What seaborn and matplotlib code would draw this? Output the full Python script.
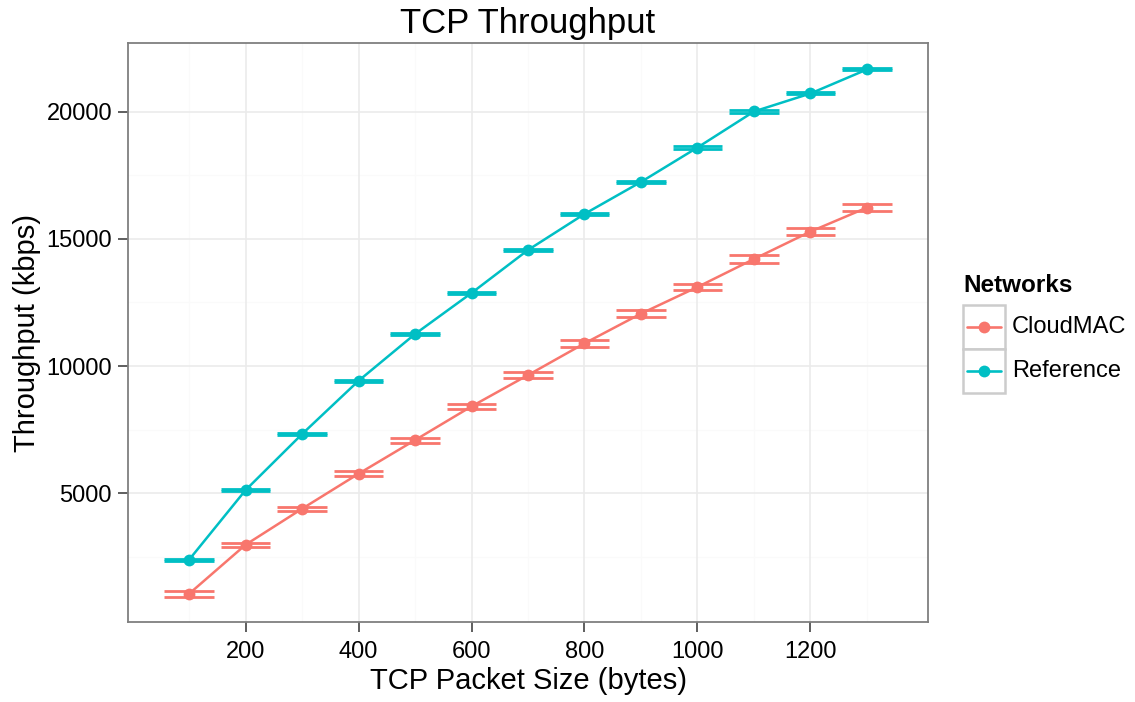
import numpy as np
import pandas as pd
import matplotlib
matplotlib.use("Agg")
import matplotlib.pyplot as plt
from matplotlib.lines import Line2D
from matplotlib.patches import Rectangle
import seaborn as sns

# values
packet_size = [100, 200, 300, 400, 500, 600, 700, 800, 900, 1000, 1100, 1200, 1300]
cloudmac = [1046, 2974, 4390, 5767, 7089, 8415, 9646, 10893, 12061, 13108, 14209, 15287, 16231]
cloudmac_err = [125, 90, 90, 100, 100, 100, 110, 140, 145, 130, 138, 135, 125]
reference = [2384, 5122, 7325, 9420, 11259, 12872, 14563, 15980, 17238, 18592, 20008, 20716, 21660]
reference_err = [30, 30, 35, 35, 35, 35, 35, 35, 40, 40, 40, 40, 40]
networks = ["CloudMAC", "Reference"]
colors = {"CloudMAC": "#F8766D", "Reference": "#00BFC4"}
x_ticks = [200, 400, 600, 800, 1000, 1200]
y_ticks = [5000, 10000, 15000, 20000]

df = pd.concat([
    pd.DataFrame({"size": packet_size, "tput": cloudmac, "err": cloudmac_err, "net": "CloudMAC"}),
    pd.DataFrame({"size": packet_size, "tput": reference, "err": reference_err, "net": "Reference"}),
])

sns.set_theme(style="white")
plt.rcParams["font.family"] = ["Liberation Sans", "DejaVu Sans"]
plt.rcParams["text.color"] = "black"
plt.rcParams["axes.labelcolor"] = "black"

fig = plt.figure(figsize=(11.35, 7.02), dpi=100)
ax = fig.add_axes([128 / 1135, 1 - 622 / 702, 800 / 1135, 579 / 702])

# grid like ggplot theme_bw
for v in [2500, 7500, 12500, 17500]:
    ax.axhline(v, color="#FAFAFA", lw=1.0, zorder=0)
for v in [100, 300, 500, 700, 900, 1100, 1300]:
    ax.axvline(v, color="#FAFAFA", lw=1.0, zorder=0)
for v in y_ticks:
    ax.axhline(v, color="#EBEBEB", lw=1.2, zorder=0)
for v in x_ticks:
    ax.axvline(v, color="#EBEBEB", lw=1.2, zorder=0)

# error bars with wide caps
half = 44
for net in networks:
    d = df[df["net"] == net]
    c = colors[net]
    ax.vlines(d["size"], d["tput"] - d["err"], d["tput"] + d["err"], color=c, lw=1.8, zorder=2)
    ax.hlines(d["tput"] - d["err"], d["size"] - half, d["size"] + half, color=c, lw=2.0, zorder=2)
    ax.hlines(d["tput"] + d["err"], d["size"] - half, d["size"] + half, color=c, lw=2.0, zorder=2)

sns.lineplot(data=df, x="size", y="tput", hue="net", palette=colors, marker="o",
             markersize=8.5, markeredgewidth=0, linewidth=1.8, legend=False, ax=ax, zorder=3)

ax.set_xlim(-8, 1408)
ax.set_ylim(-60, 22700)
ax.set_xticks(x_ticks)
ax.set_yticks(y_ticks)
ax.tick_params(axis="both", labelsize=17, colors="#333333", labelcolor="black",
               length=7.5, width=1.1, direction="out", bottom=True, left=True, pad=4)
ax.tick_params(axis="x", pad=6)
for s in ax.spines.values():
    s.set_color("#7F7F7F")
    s.set_linewidth(1.3)

ax.set_xlabel("TCP Packet Size (bytes)", fontsize=21, labelpad=3)
ax.set_ylabel("Throughput (kbps)", fontsize=21, labelpad=4)
ax.set_title("TCP Throughput", fontsize=25, pad=7)

# legend drawn ggplot style
fig.text(963 / 1135, 1 - 285 / 702, "Networks", fontsize=17.5, fontweight="bold",
         ha="left", va="center")
for i, net in enumerate(networks):
    top = 305 + i * 44
    fig.patches.append(Rectangle((963 / 1135, 1 - (top + 44) / 702), 42 / 1135, 44 / 702,
                                 transform=fig.transFigure, facecolor="white",
                                 edgecolor="#CCCCCC", lw=1.8))
    yc = 1 - (top + 22) / 702
    fig.lines.append(Line2D([967 / 1135, 1001 / 1135], [yc, yc], transform=fig.transFigure,
                            color=colors[net], lw=1.9, marker=None))
    fig.lines.append(Line2D([984 / 1135], [yc], transform=fig.transFigure,
                            color=colors[net], marker="o", markersize=8.5, markeredgewidth=0))
    fig.text(1012 / 1135, yc, net, fontsize=17, ha="left", va="center")

fig.savefig("out.png", dpi=100)
